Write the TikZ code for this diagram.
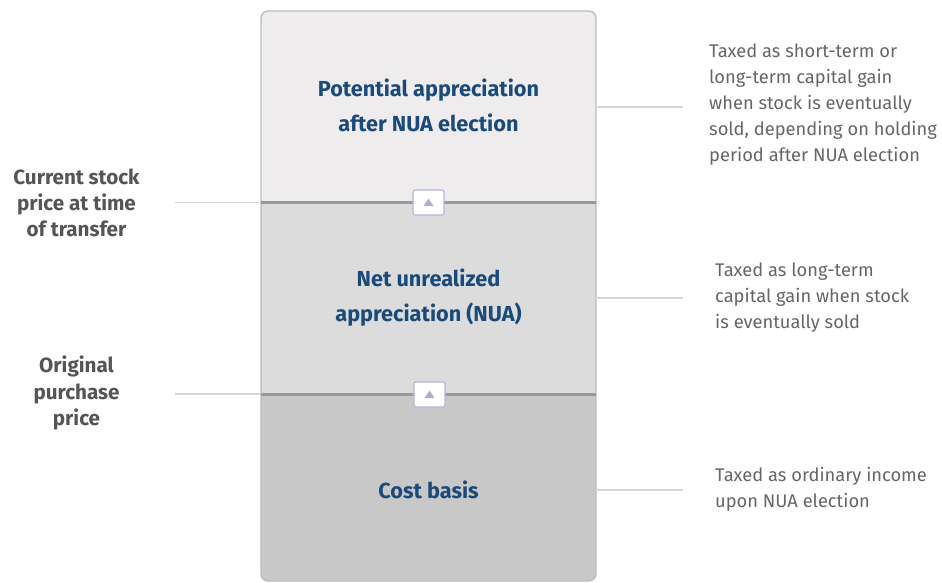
\documentclass[tikz,border=0pt]{standalone}
\usepackage{fontspec}
\setmainfont{Fira Sans}
\definecolor{topc}{HTML}{EEECED}
\definecolor{midc}{HTML}{DCDCDC}
\definecolor{botc}{HTML}{C8C8C8}
\definecolor{edgec}{HTML}{BBBBBB}
\definecolor{divc}{HTML}{999999}
\definecolor{markc}{HTML}{B8B4D8}
\definecolor{tric}{HTML}{B0AECB}
\definecolor{connc}{HTML}{D5D5D5}
\definecolor{bluec}{HTML}{1A4A7A}
\definecolor{leftc}{HTML}{555555}
\definecolor{rightc}{HTML}{666666}
\tikzset{
  band/.style={minimum width=335pt, inner sep=0pt, anchor=north west, draw=none},
  midtext/.style={text=bluec, font=\bfseries\fontsize{21.7}{35}\selectfont, align=center, inner sep=0pt},
  lefttext/.style={text=leftc, font=\bfseries\fontsize{20.6}{26.2}\selectfont, align=center, inner sep=0pt},
  righttext/.style={text=rightc, font=\fontsize{18.3}{26.2}\selectfont, align=left, inner sep=0pt, anchor=west},
  conn/.style={draw=connc, line width=1.2pt},
  divider/.style={draw=divc, line width=2.2pt},
  marker/.style={draw=markc, fill=white, line width=1.1pt, rounded corners=2pt, minimum width=31pt, minimum height=25pt, inner sep=0pt},
}
\begin{document}
\begin{tikzpicture}[x=1pt,y=-1pt]
\useasboundingbox (0,0) rectangle (942,582);
\begin{scope}
\clip[rounded corners=7pt] (261,11) rectangle (596,581);
\node[band, fill=topc, minimum height=191pt] (top) at (261,11) {};
\node[band, fill=midc, minimum height=192pt] (mid) at (261,202) {};
\node[band, fill=botc, minimum height=187pt] (bot) at (261,394) {};
\end{scope}
\draw[draw=edgec, line width=1.3pt, rounded corners=7pt] (261,11) rectangle (596,581);
\draw[divider] (top.south west) -- (top.south east);
\draw[divider] (mid.south west) -- (mid.south east);
% markers
\node[marker] (m1) at (428.5,202.5) {};
\node[marker] (m2) at (429.5,394.5) {};
\fill[tric] ([xshift=-5pt,yshift=-3.5pt]m1.center) -- ([xshift=5pt,yshift=-3.5pt]m1.center) -- ([yshift=4pt]m1.center) -- cycle;
\fill[tric] ([xshift=-5pt,yshift=-3.5pt]m2.center) -- ([xshift=5pt,yshift=-3.5pt]m2.center) -- ([yshift=4pt]m2.center) -- cycle;
% center texts
\node[midtext] (t1) at (428.5,105.5) {Potential appreciation\\after NUA election};
\node[midtext] (t2) at (428.5,297.5) {Net unrealized\\appreciation (NUA)};
\node[midtext] (t3) at (428.5,490) {Cost basis};
% left labels
\node[lefttext] (l1) at (76.5,203) {Current stock\\price at time\\of transfer};
\node[lefttext] (l2) at (76.5,393) {Original\\purchase\\price};
\coordinate (c1) at (175,202.5);
\coordinate (c2) at (175,394);
\draw[conn] (c1) -- (c1 -| top.west);
\draw[conn] (c2) -- (c2 -| mid.west);
% right labels
\node[righttext] (r1) at (709,104.5) {Taxed as short-term or\\long-term capital gain\\when stock is eventually\\sold, depending on holding\\period after NUA election};
\node[righttext] (r2) at (715,297.5) {Taxed as long-term\\capital gain when stock\\is eventually sold};
\node[righttext] (r3) at (715,489) {Taxed as ordinary income\\upon NUA election};
\coordinate (d1) at (683,107);
\coordinate (d2) at (683,298);
\coordinate (d3) at (683,490);
\draw[conn] (d1 -| top.east) -- (d1);
\draw[conn] (d2 -| mid.east) -- (d2);
\draw[conn] (d3 -| bot.east) -- (d3);
\end{tikzpicture}
\end{document}
